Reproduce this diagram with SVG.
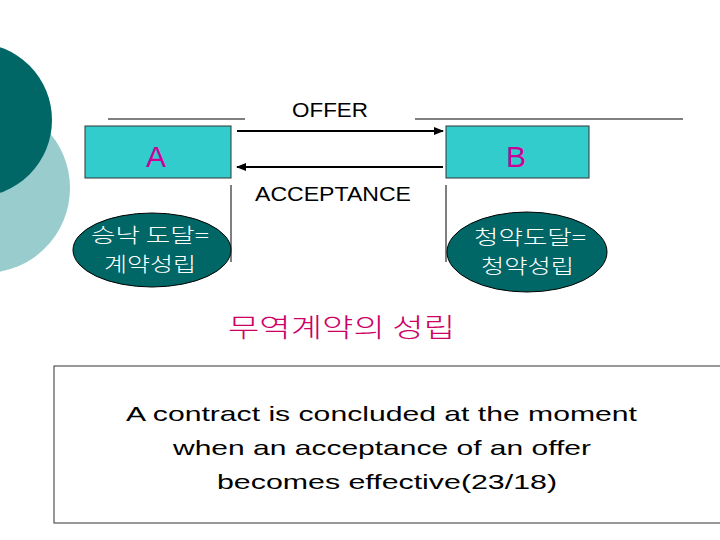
<svg xmlns="http://www.w3.org/2000/svg" width="720" height="540" viewBox="0 0 720 540">
<style>
.box{fill:#33cccc;stroke:#333;stroke-width:1}
.ln{stroke:#000;stroke-width:1;fill:none}
.ell{fill:#006666;stroke:#000;stroke-width:1}
.kw{font-family:"Noto Sans CJK KR",sans-serif;fill:#fff;font-size:20px;font-weight:300}
.lab{font-family:"Liberation Sans",sans-serif;font-size:21px}
</style>
<defs><marker id="ah" viewBox="0 0 10 10" refX="9" refY="5" markerWidth="5" markerHeight="5" orient="auto"><path d="M0,1L10,5L0,9z" fill="#000"/></marker></defs>
<rect width="720" height="540" fill="#fff"/>
<circle cx="-15" cy="188" r="85" fill="#99cccc"/>
<circle cx="-25" cy="120" r="77" fill="#006666"/>
<g id="lines">
<line class="ln" x1="108" y1="119" x2="245" y2="119"/>
<line class="ln" x1="415" y1="119" x2="683" y2="119"/>
<line class="ln" x1="231" y1="185" x2="231" y2="262"/>
<line class="ln" x1="446" y1="185" x2="446" y2="262"/>
</g>
<g id="connectors">
<line x1="237" y1="131" x2="443" y2="131" stroke="#000" stroke-width="2" marker-end="url(#ah)"/>
<line x1="443" y1="167" x2="237" y2="167" stroke="#000" stroke-width="2" marker-end="url(#ah)"/>
</g>
<text class="lab" x="292" y="117" textLength="76" lengthAdjust="spacingAndGlyphs">OFFER</text>
<text class="lab" x="255" y="201" textLength="156" lengthAdjust="spacingAndGlyphs">ACCEPTANCE</text>
<g id="A"><rect class="box" x="85" y="126" width="146" height="52"/><text x="156" y="167" font-family="Liberation Sans,sans-serif" font-size="30" fill="#cc0099" text-anchor="middle">A</text></g>
<g id="B"><rect class="box" x="446" y="126" width="143" height="52"/><text x="516" y="167" font-family="Liberation Sans,sans-serif" font-size="30" fill="#cc0099" text-anchor="middle">B</text></g>
<g id="EA"><ellipse class="ell" cx="152" cy="250" rx="79" ry="37"/><text class="kw" x="91" y="243" textLength="118" lengthAdjust="spacingAndGlyphs">승낙 도달=</text><text class="kw" x="104" y="272" textLength="92" lengthAdjust="spacingAndGlyphs">계약성립</text></g>
<g id="EB"><ellipse class="ell" cx="527" cy="252" rx="80" ry="40"/><text class="kw" x="474" y="245" textLength="112" lengthAdjust="spacingAndGlyphs">청약도달=</text><text class="kw" x="481" y="274" textLength="93" lengthAdjust="spacingAndGlyphs">청약성립</text></g>
<text x="228" y="337" font-family="Noto Sans CJK KR,sans-serif" font-size="26" font-weight="300" fill="#cc0066" textLength="227" lengthAdjust="spacingAndGlyphs">무역계약의 성립</text>
<g id="note"><rect x="54" y="366" width="670" height="157" fill="#fff" stroke="#333" stroke-width="1"/>
<text class="lab" font-size="25" x="126" y="421" textLength="511" lengthAdjust="spacingAndGlyphs">A contract is concluded at the moment</text>
<text class="lab" font-size="25" x="173" y="455" textLength="418" lengthAdjust="spacingAndGlyphs">when an acceptance of an offer</text>
<text class="lab" font-size="25" x="217" y="489" textLength="340" lengthAdjust="spacingAndGlyphs">becomes effective(23/18)</text></g>
</svg>
